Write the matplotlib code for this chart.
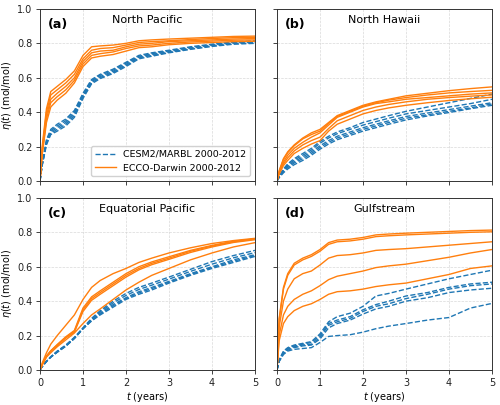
import numpy as np
import matplotlib
matplotlib.use("Agg")
import matplotlib.pyplot as plt

t = [0, 0.05, 0.15, 0.25, 0.4, 0.6, 0.8, 1.0, 1.2, 1.4, 1.7, 2.0, 2.3, 2.6, 3.0, 3.5, 4.0, 4.5, 5.0]

panel_labels = ["(a)", "(b)", "(c)", "(d)"]
panel_titles = ["North Pacific", "North Hawaii", "Equatorial Pacific", "Gulfstream"]
legend_labels = ["CESM2/MARBL 2000-2012", "ECCO-Darwin 2000-2012"]

ecco_a = [
    [0, 0.20, 0.42, 0.52, 0.55, 0.59, 0.64, 0.73, 0.78, 0.785, 0.79, 0.80, 0.815, 0.82, 0.825, 0.83, 0.835, 0.84, 0.842],
    [0, 0.18, 0.40, 0.50, 0.53, 0.57, 0.62, 0.71, 0.76, 0.77, 0.775, 0.79, 0.805, 0.81, 0.815, 0.822, 0.828, 0.833, 0.835],
    [0, 0.17, 0.38, 0.475, 0.51, 0.55, 0.60, 0.695, 0.745, 0.755, 0.76, 0.78, 0.795, 0.80, 0.81, 0.815, 0.82, 0.825, 0.828],
    [0, 0.16, 0.36, 0.455, 0.49, 0.53, 0.585, 0.68, 0.73, 0.74, 0.75, 0.77, 0.785, 0.79, 0.80, 0.808, 0.813, 0.818, 0.82],
    [0, 0.15, 0.34, 0.43, 0.47, 0.51, 0.57, 0.665, 0.715, 0.725, 0.735, 0.755, 0.775, 0.78, 0.792, 0.80, 0.805, 0.81, 0.812],
]
cesm_a = [
    [0, 0.10, 0.24, 0.30, 0.33, 0.36, 0.41, 0.51, 0.59, 0.62, 0.65, 0.69, 0.73, 0.745, 0.76, 0.78, 0.795, 0.808, 0.815],
    [0, 0.097, 0.232, 0.292, 0.32, 0.35, 0.40, 0.50, 0.584, 0.614, 0.644, 0.684, 0.725, 0.74, 0.756, 0.776, 0.792, 0.805, 0.812],
    [0, 0.094, 0.225, 0.285, 0.31, 0.34, 0.39, 0.495, 0.578, 0.607, 0.637, 0.677, 0.72, 0.735, 0.752, 0.772, 0.789, 0.802, 0.808],
    [0, 0.092, 0.218, 0.277, 0.30, 0.33, 0.38, 0.487, 0.571, 0.601, 0.631, 0.671, 0.715, 0.73, 0.748, 0.768, 0.785, 0.798, 0.804],
    [0, 0.09, 0.21, 0.27, 0.29, 0.32, 0.37, 0.48, 0.565, 0.595, 0.625, 0.665, 0.71, 0.725, 0.745, 0.765, 0.782, 0.795, 0.80],
]

ecco_b = [
    [0, 0.06, 0.13, 0.17, 0.21, 0.25, 0.28, 0.30, 0.34, 0.38, 0.41, 0.44, 0.46, 0.475, 0.495, 0.51, 0.525, 0.537, 0.547],
    [0, 0.055, 0.125, 0.165, 0.205, 0.245, 0.27, 0.29, 0.335, 0.375, 0.405, 0.435, 0.455, 0.47, 0.485, 0.50, 0.512, 0.52, 0.527],
    [0, 0.05, 0.11, 0.15, 0.19, 0.225, 0.255, 0.28, 0.325, 0.37, 0.40, 0.43, 0.45, 0.46, 0.475, 0.485, 0.495, 0.505, 0.512],
    [0, 0.045, 0.10, 0.135, 0.175, 0.21, 0.235, 0.255, 0.305, 0.35, 0.38, 0.41, 0.43, 0.445, 0.46, 0.475, 0.485, 0.493, 0.50],
    [0, 0.04, 0.09, 0.12, 0.16, 0.19, 0.215, 0.235, 0.29, 0.33, 0.36, 0.39, 0.41, 0.425, 0.44, 0.455, 0.468, 0.478, 0.487],
]
cesm_b = [
    [0, 0.03, 0.07, 0.10, 0.13, 0.16, 0.19, 0.23, 0.26, 0.285, 0.31, 0.34, 0.36, 0.38, 0.405, 0.43, 0.455, 0.48, 0.505],
    [0, 0.028, 0.065, 0.093, 0.122, 0.15, 0.18, 0.22, 0.25, 0.275, 0.30, 0.325, 0.345, 0.365, 0.39, 0.41, 0.43, 0.45, 0.475],
    [0, 0.025, 0.06, 0.085, 0.113, 0.14, 0.17, 0.205, 0.235, 0.26, 0.285, 0.31, 0.33, 0.35, 0.375, 0.395, 0.415, 0.435, 0.455],
    [0, 0.022, 0.055, 0.078, 0.105, 0.13, 0.16, 0.195, 0.225, 0.25, 0.275, 0.30, 0.32, 0.34, 0.365, 0.385, 0.405, 0.425, 0.448],
    [0, 0.02, 0.048, 0.07, 0.095, 0.12, 0.15, 0.185, 0.215, 0.24, 0.265, 0.29, 0.31, 0.33, 0.355, 0.378, 0.398, 0.42, 0.44],
]

ecco_c = [
    [0, 0.04, 0.10, 0.15, 0.20, 0.26, 0.32, 0.41, 0.48, 0.52, 0.56, 0.59, 0.625, 0.65, 0.68, 0.71, 0.735, 0.752, 0.765],
    [0, 0.032, 0.082, 0.112, 0.148, 0.193, 0.23, 0.36, 0.425, 0.46, 0.51, 0.56, 0.60, 0.628, 0.658, 0.695, 0.724, 0.748, 0.762],
    [0, 0.03, 0.08, 0.11, 0.145, 0.19, 0.225, 0.35, 0.415, 0.45, 0.50, 0.55, 0.59, 0.62, 0.65, 0.69, 0.72, 0.745, 0.76],
    [0, 0.029, 0.078, 0.108, 0.142, 0.186, 0.22, 0.34, 0.405, 0.44, 0.49, 0.54, 0.582, 0.612, 0.643, 0.683, 0.715, 0.741, 0.757],
    [0, 0.03, 0.075, 0.10, 0.135, 0.175, 0.215, 0.27, 0.32, 0.355, 0.41, 0.465, 0.51, 0.55, 0.59, 0.64, 0.68, 0.715, 0.74],
]
cesm_c = [
    [0, 0.02, 0.05, 0.077, 0.11, 0.145, 0.19, 0.245, 0.30, 0.345, 0.40, 0.445, 0.48, 0.505, 0.54, 0.585, 0.63, 0.665, 0.695],
    [0, 0.02, 0.05, 0.076, 0.108, 0.143, 0.188, 0.243, 0.295, 0.338, 0.39, 0.433, 0.468, 0.493, 0.528, 0.573, 0.615, 0.652, 0.682],
    [0, 0.02, 0.05, 0.075, 0.105, 0.14, 0.185, 0.24, 0.29, 0.33, 0.38, 0.42, 0.455, 0.48, 0.515, 0.56, 0.60, 0.64, 0.67],
    [0, 0.02, 0.05, 0.075, 0.104, 0.139, 0.184, 0.24, 0.287, 0.325, 0.373, 0.415, 0.448, 0.473, 0.51, 0.555, 0.595, 0.632, 0.665],
    [0, 0.02, 0.05, 0.075, 0.103, 0.138, 0.183, 0.24, 0.285, 0.32, 0.365, 0.41, 0.44, 0.465, 0.505, 0.55, 0.59, 0.625, 0.66],
]

ecco_d = [
    [0, 0.30, 0.48, 0.56, 0.62, 0.65, 0.67, 0.70, 0.74, 0.755, 0.76, 0.77, 0.785, 0.79, 0.795, 0.80, 0.805, 0.81, 0.813],
    [0, 0.29, 0.47, 0.55, 0.61, 0.64, 0.66, 0.69, 0.73, 0.745, 0.75, 0.76, 0.775, 0.78, 0.785, 0.79, 0.795, 0.80, 0.803],
    [0, 0.25, 0.40, 0.47, 0.53, 0.56, 0.575, 0.61, 0.65, 0.665, 0.67, 0.68, 0.695, 0.70, 0.705, 0.715, 0.725, 0.735, 0.745],
    [0, 0.20, 0.32, 0.37, 0.41, 0.44, 0.46, 0.49, 0.525, 0.545, 0.56, 0.575, 0.595, 0.605, 0.615, 0.635, 0.655, 0.68, 0.70],
    [0, 0.17, 0.27, 0.31, 0.345, 0.37, 0.385, 0.41, 0.44, 0.455, 0.46, 0.47, 0.485, 0.495, 0.505, 0.53, 0.555, 0.59, 0.605],
]
cesm_d = [
    [0, 0.06, 0.11, 0.13, 0.145, 0.155, 0.165, 0.21, 0.28, 0.31, 0.33, 0.37, 0.43, 0.445, 0.47, 0.50, 0.53, 0.555, 0.58],
    [0, 0.055, 0.105, 0.125, 0.14, 0.15, 0.16, 0.20, 0.27, 0.29, 0.31, 0.35, 0.38, 0.40, 0.43, 0.45, 0.48, 0.50, 0.51],
    [0, 0.055, 0.10, 0.12, 0.135, 0.145, 0.15, 0.19, 0.26, 0.28, 0.30, 0.34, 0.37, 0.385, 0.415, 0.44, 0.47, 0.49, 0.50],
    [0, 0.05, 0.095, 0.115, 0.13, 0.14, 0.145, 0.18, 0.245, 0.27, 0.29, 0.325, 0.355, 0.37, 0.40, 0.42, 0.45, 0.465, 0.475],
    [0, 0.05, 0.09, 0.11, 0.12, 0.125, 0.13, 0.16, 0.195, 0.20, 0.205, 0.22, 0.24, 0.255, 0.27, 0.29, 0.305, 0.36, 0.387],
]

ecco_sets = [ecco_a, ecco_b, ecco_c, ecco_d]
cesm_sets = [cesm_a, cesm_b, cesm_c, cesm_d]

BLUE = "#1f77b4"
ORANGE = "#ff7f0e"

fig = plt.figure(figsize=(5.0, 4.05), dpi=100)
lefts = [0.08, 0.554]
bottoms = [0.553, 0.0864]
w = 0.43
h = 0.425
axes = []
for r in range(2):
    for c in range(2):
        ax = fig.add_axes([lefts[c], bottoms[r], w, h])
        axes.append(ax)

for i, ax in enumerate(axes):
    for k, y in enumerate(cesm_sets[i]):
        ax.plot(t, y, color=BLUE, ls="--", lw=1.0, label=legend_labels[0] if k == 0 else None)
    for k, y in enumerate(ecco_sets[i]):
        ax.plot(t, y, color=ORANGE, ls="-", lw=1.0, label=legend_labels[1] if k == 0 else None)
    ax.set_xlim(0, 5)
    ax.set_ylim(0, 1.0)
    ax.set_xticks([0, 1, 2, 3, 4, 5])
    ax.set_yticks([0, 0.2, 0.4, 0.6, 0.8, 1.0])
    ax.grid(True, color="#d0d0d0", ls="--", lw=0.5, alpha=0.8)
    ax.tick_params(labelsize=7, length=3, width=0.6, colors="#222222", pad=2.5)
    for s in ax.spines.values():
        s.set_linewidth(0.7)
        s.set_color("#333333")
    ax.text(0.5, 0.965, panel_titles[i], transform=ax.transAxes, ha="center", va="top", fontsize=8)
    ax.text(0.035, 0.91, panel_labels[i], transform=ax.transAxes, ha="left", va="center",
            fontsize=9, fontweight="bold")
    col = i % 2
    row = i // 2
    if col == 0:
        ax.set_ylabel(r"$\eta(t)$ (mol/mol)", fontsize=7, labelpad=2)
        ax.yaxis.set_major_formatter(matplotlib.ticker.FormatStrFormatter("%.1f"))
    else:
        ax.set_yticklabels([])
    if row == 1:
        ax.set_xlabel(r"$t$ (years)", fontsize=7, labelpad=2)
    else:
        ax.set_xticklabels([])

axes[0].legend(loc="lower right", fontsize=6.8, frameon=True, handlelength=2.2,
               borderaxespad=0.5, framealpha=0.9)

fig.savefig("out.png", dpi=100)
